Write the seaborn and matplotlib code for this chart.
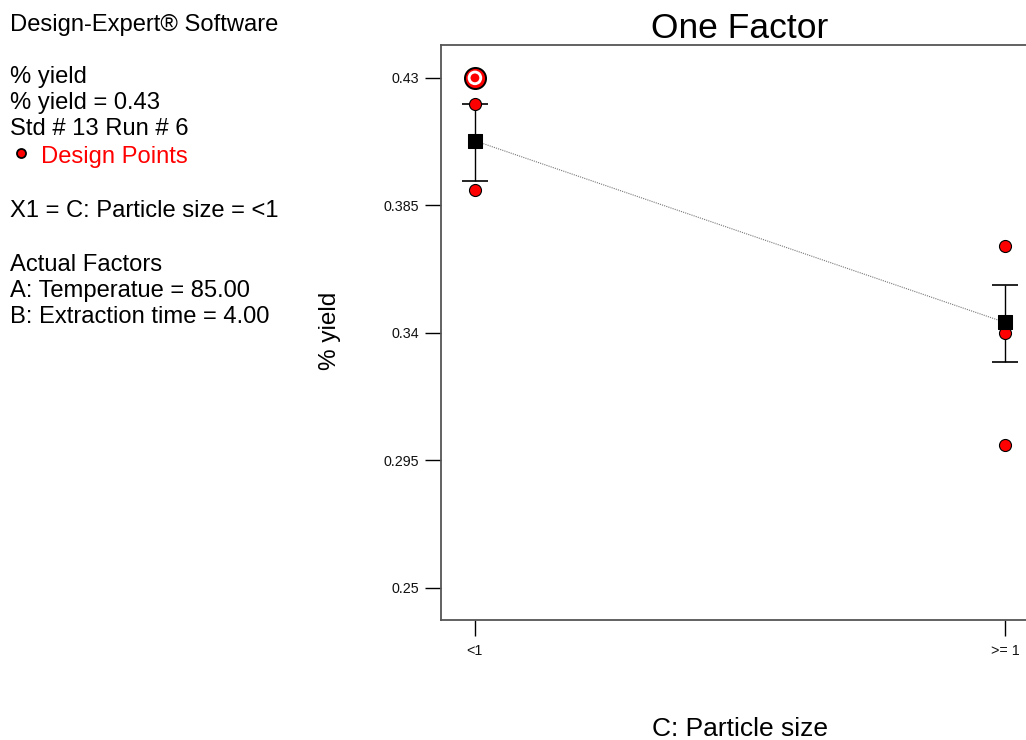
import matplotlib
matplotlib.use("Agg")
import matplotlib.pyplot as plt
import seaborn as sns
import pandas as pd

# Factor levels and observed responses
categories = ["<1", ">= 1"]
point_level = ["<1", "<1", "<1", ">= 1", ">= 1", ">= 1"]
point_yield = [0.4208, 0.3905, 0.43, 0.3707, 0.3400, 0.3005]
highlight_level = "<1"
highlight_yield = 0.43

# Model prediction and LSD-style interval per level
mean_yield = [0.4078, 0.3437]
lower_yield = [0.3936, 0.3298]
upper_yield = [0.4208, 0.3569]

y_ticks = [0.25, 0.295, 0.34, 0.385, 0.43]
y_tick_labels = ["0.25", "0.295", "0.34", "0.385", "0.43"]

sns.set_style("white")
plt.rcParams["font.family"] = ["Liberation Sans", "DejaVu Sans"]
plt.rcParams["text.color"] = "black"
plt.rcParams["axes.labelcolor"] = "black"

pos = {c: i for i, c in enumerate(categories)}
pts = pd.DataFrame({"x": [pos[c] for c in point_level], "y": point_yield})
means = pd.DataFrame({"x": [pos[c] for c in categories], "y": mean_yield})

fig = plt.figure(figsize=(10.26, 7.40), dpi=100)
ax = fig.add_axes([441 / 1026, 120 / 740, 598 / 1026, 575 / 740])

# dotted line joining the predicted means
sns.lineplot(data=means, x="x", y="y", ax=ax, color="#777777", lw=0.8,
             linestyle=(0, (1, 1)), zorder=2)

# interval bars
err_lo = [m - l for m, l in zip(mean_yield, lower_yield)]
err_hi = [u - m for u, m in zip(upper_yield, mean_yield)]
eb = ax.errorbar(means["x"], means["y"], yerr=[err_lo, err_hi], fmt="none",
                 ecolor="black", elinewidth=1.0, capsize=9.4, capthick=1.2,
                 zorder=3)
for cap in eb[1]:
    cap.set_color("#444444")

# design points
sns.scatterplot(data=pts, x="x", y="y", ax=ax, color="#ff0000",
                edgecolor="black", linewidth=0.8, s=75, zorder=5, legend=False)

# highlighted run drawn as a target
hx = pos[highlight_level]
ax.scatter([hx], [highlight_yield], s=230, color="#ff0000", edgecolor="black",
           linewidth=1.4, zorder=6)
ax.scatter([hx], [highlight_yield], s=110, color="white", edgecolor="none", zorder=7)
ax.scatter([hx], [highlight_yield], s=40, color="#ff0000", edgecolor="none", zorder=8)

# predicted means
sns.scatterplot(data=means, x="x", y="y", ax=ax, marker="s", color="black",
                edgecolor="black", s=90, zorder=9, legend=False)

ax.set_xlim(-0.064, 1.064)
ax.set_ylim(0.2387, 0.4416)
ax.set_xticks(range(len(categories)))
ax.set_xticklabels(categories)
ax.set_yticks(y_ticks)
ax.set_yticklabels(y_tick_labels)
ax.tick_params(axis="both", direction="out", length=11.5, width=1.0,
               color="black", labelsize=10.3, labelcolor="#111111")
ax.tick_params(axis="y", pad=4)
ax.tick_params(axis="x", pad=6)
ax.tick_params(left=True, bottom=True)

for side in ["left", "bottom", "top", "right"]:
    ax.spines[side].set_color("#555555")
    ax.spines[side].set_linewidth(1.3)

ax.set_title("One Factor", fontsize=25.5, pad=5)
ax.set_xlabel("C: Particle size", fontsize=19, va="center")
ax.xaxis.set_label_coords(0.5, -0.189)
ax.set_ylabel("% yield", fontsize=17.5, va="center")
ax.yaxis.set_label_coords(-0.1856, 0.5026)

# information panel on the left
fs = 17.1
def put(txt, ypix, x=10, color="black"):
    fig.text(x / 1026, 1 - ypix / 740, txt, fontsize=fs, color=color,
             ha="left", va="center")

put("Design-Expert® Software", 25)
put("% yield", 77)
put("% yield = 0.43", 103)
put("Std # 13 Run # 6", 129)
put("Design Points", 157, x=41, color="#ff0000")
fig.add_artist(plt.Line2D([21 / 1026], [1 - 153 / 740], marker="o",
                          markersize=6.5, markerfacecolor="#ff0000",
                          markeredgecolor="black", markeredgewidth=1.3,
                          transform=fig.transFigure))
put("X1 = C: Particle size = <1", 211)
put("Actual Factors", 265)
put("A: Temperatue = 85.00", 291)
put("B: Extraction time = 4.00", 317)

fig.savefig("out.png", dpi=100)
